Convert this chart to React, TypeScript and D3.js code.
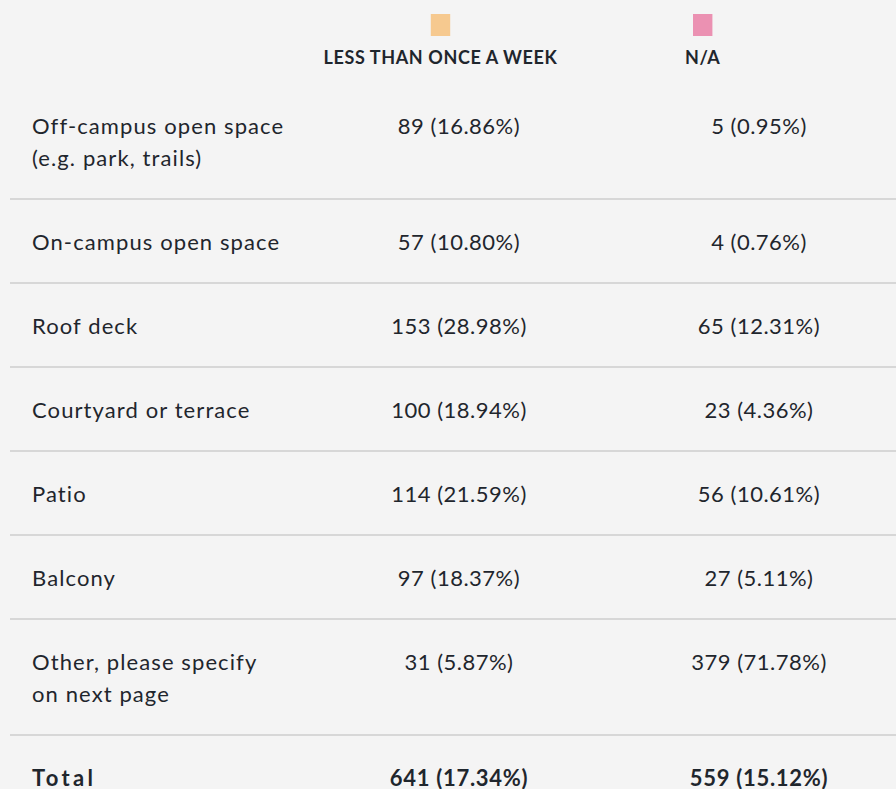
import React from "react";
import * as d3 from "d3";

// ---- data ----
const seriesNames = ["LESS THAN ONCE A WEEK", "N/A"];
const seriesColors = ["#f6c98f", "#eb91b2"];
const categoryLines: string[][] = [
  ["Off-campus open space", "(e.g. park, trails)"],
  ["On-campus open space"],
  ["Roof deck"],
  ["Courtyard or terrace"],
  ["Patio"],
  ["Balcony"],
  ["Other, please specify", "on next page"],
];
const lessCounts = [89, 57, 153, 100, 114, 97, 31];
const lessPcts = [16.86, 10.8, 28.98, 18.94, 21.59, 18.37, 5.87];
const naCounts = [5, 4, 65, 23, 56, 27, 379];
const naPcts = [0.95, 0.76, 12.31, 4.36, 10.61, 5.11, 71.78];
const totalLabel = "Total";
const totalCounts = [641, 559];
const totalPcts = [17.34, 15.12];

const W = 896;
const H = 789;
const FONT = "Lato, 'Source Sans Pro', 'Open Sans', sans-serif";
const TEXT = "#1f262d";
const GRID = "#d7d7d7";

const fmt = d3.format(".2f");
const cell = (c: number, p: number) => `${c} (${fmt(p)}%)`;

export default function App() {
  const lineH = 32;
  const baseRowH = 84;
  const tableTop = 83;
  const rowHeights = categoryLines.map((l) => baseRowH + lineH * (l.length - 1));
  const rowTops = [tableTop, ...Array.from(d3.cumsum(rowHeights)).map((v) => tableTop + v)];

  const headerX = [440.5, 702.7];
  const colX = [459, 759];
  const labelX = 32;
  const firstBase = 50.5;

  const series = [
    { counts: lessCounts, pcts: lessPcts },
    { counts: naCounts, pcts: naPcts },
  ];

  const totalTop = rowTops[rowTops.length - 1];

  return (
    <svg
      width={W}
      height={H}
      style={{ position: "absolute", left: 0, top: 0, fontFamily: FONT }}
    >
      <rect x={0} y={0} width={W} height={H} fill="#f4f4f4" />
      {/* header */}
      {seriesNames.map((s, i) => (
        <g key={s}>
          <rect x={headerX[i] - 9.7} y={14} width={19.4} height={22} fill={seriesColors[i]} />
          <text
            x={headerX[i]}
            y={64}
            textAnchor="middle"
            fontSize={18}
            fontWeight={700}
            letterSpacing={0.6}
            fill={TEXT}
          >
            {s}
          </text>
        </g>
      ))}
      {/* rows */}
      {categoryLines.map((lines, r) => {
        const top = rowTops[r];
        return (
          <g key={r}>
            {lines.map((ln, k) => (
              <text
                key={k}
                x={labelX}
                y={top + firstBase + k * lineH}
                fontSize={22}
                letterSpacing={1.1}
                fill={TEXT}
              >
                {ln}
              </text>
            ))}
            {series.map((s, i) => (
              <text
                key={i}
                x={colX[i]}
                y={top + firstBase}
                textAnchor="middle"
                fontSize={22}
                letterSpacing={0.5}
                fill={TEXT}
              >
                {cell(s.counts[r], s.pcts[r])}
              </text>
            ))}
            <rect x={10} y={top + rowHeights[r] - 1} width={W - 10} height={2} fill={GRID} />
          </g>
        );
      })}
      {/* total */}
      <text
        x={labelX}
        y={totalTop + firstBase}
        fontSize={22}
        fontWeight={700}
        letterSpacing={3.3}
        fill={TEXT}
      >
        {totalLabel}
      </text>
      {totalCounts.map((c, i) => (
        <text
          key={i}
          x={colX[i]}
          y={totalTop + firstBase}
          textAnchor="middle"
          fontSize={22}
          fontWeight={700}
          letterSpacing={0.7}
          fill={TEXT}
        >
          {cell(c, totalPcts[i])}
        </text>
      ))}
    </svg>
  );
}
